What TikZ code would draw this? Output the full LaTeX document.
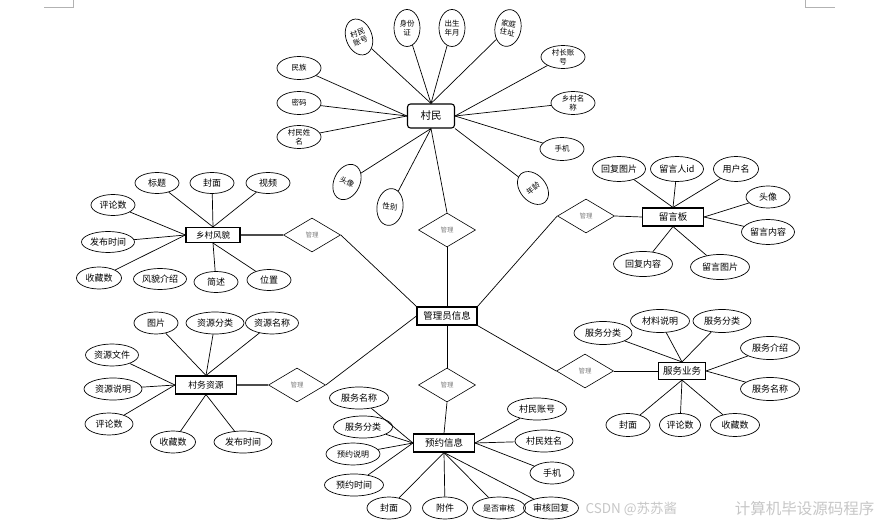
\documentclass[tikz,border=0pt]{standalone}
\usepackage{fontspec}
\setmainfont{Noto Sans CJK SC}
\usepackage{tikz}
\usetikzlibrary{shapes.geometric,positioning}

\begin{document}
\begin{tikzpicture}[x=1pt, y=-1pt,
    entity/.style={rectangle, draw, line width=1.1pt, minimum height=18pt, inner sep=1pt, font=\fontsize{9.5}{11}\selectfont},
    attr/.style={ellipse, draw, line width=0.7pt, minimum width=44pt, minimum height=22pt, inner sep=0pt, font=\fontsize{9}{10}\selectfont},
    cattr/.style={ellipse, draw, line width=0.7pt, minimum width=44pt, minimum height=23pt, inner sep=0pt, align=center, font=\fontsize{7.5}{8.5}\selectfont},
    vattr/.style={cattr, minimum width=26pt, minimum height=37pt},
    rel/.style={diamond, draw, line width=0.6pt, minimum width=57pt, minimum height=34pt, inner sep=0pt, text=gray, font=\fontsize{6.5}{7}\selectfont},
    link/.style={line width=0.7pt},
    heavy/.style={line width=1.6pt, draw=black!70}]

    \useasboundingbox (0,0) rectangle (881,526);
    \draw[gray!60, line width=0.6pt] (44,7) -- (73,7) -- (73,0);
    \draw[gray!60, line width=0.6pt] (805,0) -- (805,7) -- (835,7);

    % entities
    \node[entity, rounded corners=3pt, minimum width=47pt, minimum height=24pt, font=\fontsize{10.5}{12}\selectfont] (cunmin) at (431,116) {村民};
    \node[entity, minimum width=60pt] (admin) at (447,316) {管理员信息};
    \node[entity, minimum width=54pt, minimum height=15pt, font=\fontsize{8.5}{10}\selectfont] (xcfm) at (213,235) {乡村风貌};
    \node[entity, minimum width=61pt] (lyb) at (673,217) {留言板};
    \node[entity, minimum width=61pt, font=\fontsize{8.8}{10}\selectfont] (cwzy) at (206,385) {村务资源};
    \node[entity, minimum width=47pt, minimum height=17pt] (fwyw) at (682,371) {服务业务};
    \node[entity, minimum width=61pt] (yuyue) at (444,443) {预约信息};

    % relations
    \node[rel] (d1) at (447,230) {管理};
    \node[rel] (d2) at (312,235) {管理};
    \node[rel] (d3) at (586,216) {管理};
    \node[rel] (d4) at (297,385) {管理};
    \node[rel] (d5) at (585,371) {管理};
    \node[rel] (d6) at (447,385) {管理};

    \draw[link] (cunmin.south) -- (d1.north);
    \draw[link] (d1.south) -- (admin.north);
    \draw[link] (admin.north west) -- (d2.east);
    \draw[heavy] (d2.west) -- (xcfm.east);
    \draw[link] (admin.north east) -- (d3.west);
    \draw[link] (d3.east) -- (lyb.west);
    \draw[link] (admin.west) -- (d4.east);
    \draw[heavy] (d4.west) -- (cwzy.east);
    \draw[link] (admin.south east) -- (d5.west);
    \draw[link] (d5.east) -- (fwyw.west);
    \draw[link] (admin.south) -- (d6.north);
    \draw[link] (d6.south) -- (yuyue.north);

    % 村民
    \node[vattr, rotate=20] (cmzh) at (359,37) {村民\\账号};
    \node[vattr] (sfz) at (407,28) {身份\\证};
    \node[vattr] (csny) at (452,28) {出生\\年月};
    \node[vattr, rotate=-10] (jtzz) at (508,28) {家庭\\住址};
    \node[cattr] (czzh) at (563,57) {村长账\\号};
    \node[cattr] (xcmc) at (573,103) {乡村名\\称};
    \node[cattr] (cmsj) at (562,149) {手机};
    \node[cattr] (mz) at (299,68) {民族};
    \node[cattr] (mm) at (299,103) {密码};
    \node[cattr] (cmxm) at (299,137) {村民姓\\名};
    \node[vattr, rotate=-25] (cmtx) at (347,182) {头像};
    \node[vattr, rotate=-8] (xb) at (390,207) {性别};
    \node[vattr, rotate=40] (nl) at (533,188) {年龄};

    \draw[link] (cunmin.north) -- (cmzh);
    \draw[link] (cunmin.north) -- (sfz);
    \draw[link] (cunmin.north) -- (csny);
    \draw[link] (cunmin.north) -- (jtzz);
    \draw[link] (cunmin.east) -- (czzh);
    \draw[link] (cunmin.east) -- (xcmc);
    \draw[link] (cunmin.east) -- (cmsj);
    \draw[link] (cunmin.west) -- (mz);
    \draw[link] (cunmin.west) -- (mm);
    \draw[link] (cunmin.west) -- (cmxm);
    \draw[link] (cunmin.south) -- (cmtx);
    \draw[link] (cunmin.south) -- (xb);
    \draw[link] (cunmin.south east) -- (nl);

    % 乡村风貌
    \node[attr, minimum height=21pt] (bt) at (157,183) {标题};
    \node[attr, minimum height=21pt] (fm1) at (212,183) {封面};
    \node[attr, minimum height=21pt] (sp) at (268,183) {视频};
    \node[attr, minimum height=21pt] (pls1) at (113,205) {评论数};
    \node[attr, minimum width=53pt, minimum height=21pt] (fbsj1) at (108,242) {发布时间};
    \node[attr, minimum width=45pt] (scs1) at (99,278) {收藏数};
    \node[attr, minimum width=53pt, minimum height=21pt] (fmjs) at (160,279) {风貌介绍};
    \node[attr, minimum height=21pt] (js) at (216,282) {简述};
    \node[attr, minimum height=21pt] (wz) at (269,280) {位置};

    \draw[link] (xcfm.north) -- (bt);
    \draw[link] (xcfm.north) -- (fm1);
    \draw[link] (xcfm.north) -- (sp);
    \draw[link] (xcfm.west) -- (pls1);
    \draw[link] (xcfm.west) -- (fbsj1);
    \draw[link] (xcfm.west) -- (scs1);
    \draw[link] (xcfm.south) -- (js);
    \draw[link] (xcfm.south) -- (wz);

    % 留言板
    \node[attr, minimum width=53pt, minimum height=25pt] (hftp) at (619,169) {回复图片};
    \node[attr, minimum width=53pt, minimum height=25pt] (lyrid) at (677,169) {留言人id};
    \node[attr, minimum width=45pt, minimum height=25pt] (yhm) at (736,169) {用户名};
    \node[attr] (lytx) at (768,197) {头像};
    \node[attr, minimum width=53pt, minimum height=25pt] (lynr) at (768,232) {留言内容};
    \node[attr, minimum width=59pt, minimum height=25pt] (hfnr) at (643,264) {回复内容};
    \node[attr, minimum width=59pt, minimum height=25pt] (lytp) at (720,267) {留言图片};

    \draw[link] (lyb.north) -- (hftp);
    \draw[link] (lyb.north) -- (lyrid);
    \draw[link] (lyb.north) -- (yhm);
    \draw[link] (lyb.east) -- (lytx);
    \draw[link] (lyb.east) -- (lynr);
    \draw[link] (lyb.south) -- (hfnr);
    \draw[link] (lyb.south) -- (lytp);

    % 村务资源
    \node[attr] (tp) at (156,323) {图片};
    \node[attr, minimum width=58pt] (zyfl) at (215,323) {资源分类};
    \node[attr, minimum width=53pt] (zymc) at (272,323) {资源名称};
    \node[attr, minimum width=53pt] (zywj) at (112,355) {资源文件};
    \node[attr, minimum width=58pt] (zysm) at (113,389) {资源说明};
    \node[attr, minimum width=48pt] (pls2) at (109,424) {评论数};
    \node[attr, minimum width=45pt] (scs2) at (173,442) {收藏数};
    \node[attr, minimum width=58pt] (fbsj2) at (243,442) {发布时间};

    \draw[link] (cwzy.north) -- (tp);
    \draw[link] (cwzy.north) -- (zyfl);
    \draw[link] (cwzy.north) -- (zymc);
    \draw[link] (cwzy.west) -- (zywj);
    \draw[link] (cwzy.west) -- (zysm);
    \draw[link] (cwzy.west) -- (pls2);
    \draw[link] (cwzy.south) -- (scs2);
    \draw[link] (cwzy.south) -- (fbsj2);

    % 服务业务
    \node[attr, minimum width=58pt, minimum height=23pt] (fwfl1) at (603,333) {服务分类};
    \node[attr, minimum width=59pt, minimum height=23pt] (clsm) at (660,321) {材料说明};
    \node[attr, minimum width=58pt, minimum height=23pt] (fwfl2) at (722,321) {服务分类};
    \node[attr, minimum width=59pt, minimum height=23pt] (fwjs) at (770,348) {服务介绍};
    \node[attr, minimum width=59pt, minimum height=23pt] (fwmc1) at (770,389) {服务名称};
    \node[attr, minimum height=23pt] (fm2) at (628,425) {封面};
    \node[attr, minimum width=41pt, minimum height=23pt] (pls3) at (680,425) {评论数};
    \node[attr, minimum width=49pt, minimum height=23pt] (scs3) at (735,425) {收藏数};

    \draw[link] (fwyw.north) -- (fwfl1);
    \draw[link] (fwyw.north) -- (clsm);
    \draw[link] (fwyw.north) -- (fwfl2);
    \draw[link] (fwyw.east) -- (fwjs);
    \draw[link] (fwyw.east) -- (fwmc1);
    \draw[link] (fwyw.south) -- (fm2);
    \draw[link] (fwyw.south) -- (pls3);
    \draw[link] (fwyw.south) -- (scs3);

    % 预约信息
    \node[attr, minimum width=59pt] (fwmc2) at (359,398) {服务名称};
    \node[attr, minimum width=59pt] (fwfl3) at (363,427) {服务分类};
    \node[attr, minimum width=54pt, font=\fontsize{8}{9}\selectfont] (yysm) at (353,454) {预约说明};
    \node[attr, minimum width=59pt] (yysj) at (354,485) {预约时间};
    \node[attr] (fm3) at (389,508) {封面};
    \node[attr, minimum width=45pt] (fj) at (445,508) {附件};
    \node[attr, minimum width=53pt, font=\fontsize{8}{9}\selectfont] (sfsh) at (499,508) {是否审核};
    \node[attr, minimum width=55pt] (shhf) at (551,508) {审核回复};
    \node[attr, minimum width=59pt] (cmzh2) at (537,409) {村民账号};
    \node[attr, minimum width=58pt] (cmxm2) at (544,441) {村民姓名};
    \node[attr] (yysj2) at (552,473) {手机};

    \draw[link] (yuyue.west) -- (fwmc2);
    \draw[link] (yuyue.west) -- (fwfl3);
    \draw[link] (yuyue.west) -- (yysm);
    \draw[link] (yuyue.west) -- (yysj);
    \draw[link] (yuyue.south) -- (fm3);
    \draw[link] (yuyue.south) -- (fj);
    \draw[link] (yuyue.south) -- (sfsh);
    \draw[link] (yuyue.south) -- (shhf);
    \draw[link] (yuyue.east) -- (cmzh2);
    \draw[link] (yuyue.east) -- (cmxm2);
    \draw[link] (yuyue.east) -- (yysj2);

    \node[anchor=west, text=gray!45, font=\fontsize{13.5}{15}\selectfont] (wm1) at (582,509) {CSDN @苏苏酱};
    \node[anchor=east, text=gray!45, font=\fontsize{15.5}{17}\selectfont] (wm2) at (878,509) {计算机毕设源码程序};
\end{tikzpicture}
\end{document}
